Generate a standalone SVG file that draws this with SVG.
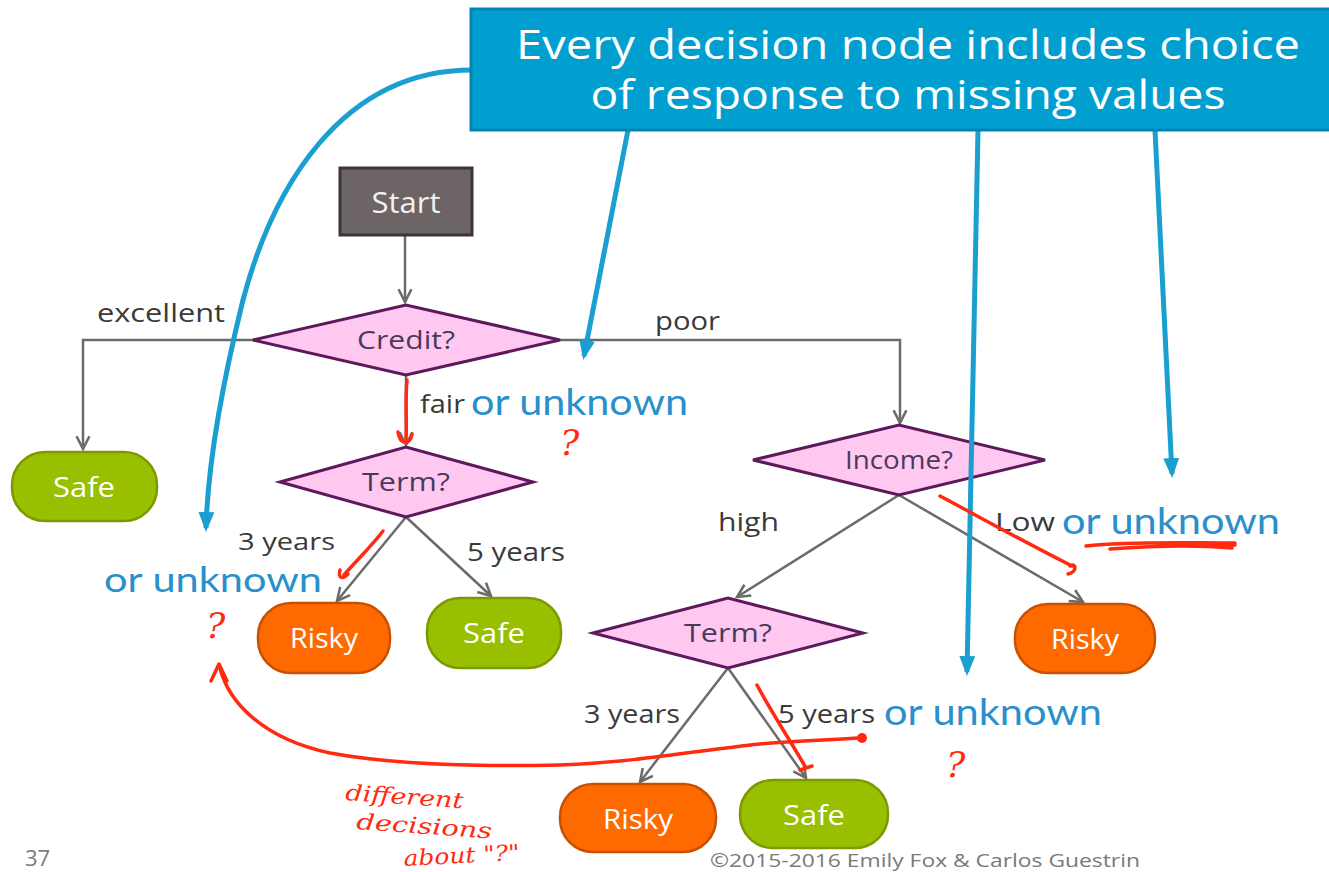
<svg xmlns="http://www.w3.org/2000/svg" width="1329" height="872" viewBox="0 0 1329 872">
<defs>
<style>
.lbl{font-family:"Open Sans","Liberation Sans",sans-serif;font-size:25px;fill:#3a3a3a}
.blue{font-family:"Lato","Open Sans",sans-serif;font-size:36px;fill:#2a90cc}
.dtxt{font-family:"Open Sans","Liberation Sans",sans-serif;font-size:25px;fill:#4a3a5a;text-anchor:middle}
.ltxt{font-family:"Open Sans","Liberation Sans",sans-serif;font-size:27px;fill:#ffffff;text-anchor:middle}
.dia{fill:#ffc8f0;stroke:#5c1a5c;stroke-width:3}
.safe{fill:#99c000;stroke:#7a9a00;stroke-width:2.5}
.risky{fill:#ff6a00;stroke:#c85000;stroke-width:2.5}
.con{fill:none;stroke:#6b6b6b;stroke-width:2.5}
.bl{fill:none;stroke:#1a9fd0;stroke-width:5}
.red{fill:none;stroke:#ff2a10;stroke-width:3.5;stroke-linecap:round;stroke-linejoin:round}
.rq{font-family:"DejaVu Serif",serif;fill:#ff2a10;font-size:36px;font-style:italic}
.rh{font-family:"DejaVu Serif",serif;fill:#ff2a10;font-size:22px;font-style:italic}
</style>
<marker id="ga" viewBox="0 0 10 10" refX="9" refY="5" markerWidth="16" markerHeight="16" markerUnits="userSpaceOnUse" orient="auto">
<path d="M1,1 L9,5 L1,9" fill="none" stroke="#6b6b6b" stroke-width="1.6"/>
</marker>
<marker id="ba" viewBox="0 0 10 10" refX="8" refY="5" markerWidth="20" markerHeight="20" markerUnits="userSpaceOnUse" orient="auto">
<path d="M0,1 L10,5 L0,9 Z" fill="#1a9fd0"/>
</marker>
</defs>
<rect width="1329" height="872" fill="#ffffff"/>

<g id="connectors">
<path class="con" d="M405,235 V302" marker-end="url(#ga)"/>
<path class="con" d="M253,340 H83 V449" marker-end="url(#ga)"/>
<path class="con" d="M560,340 H900 V423" marker-end="url(#ga)"/>
<path class="con" d="M406,375 V445" marker-end="url(#ga)"/>
<path class="con" d="M406,517 L337,601" marker-end="url(#ga)"/>
<path class="con" d="M406,517 L491,596" marker-end="url(#ga)"/>
<path class="con" d="M899,495 L737,597" marker-end="url(#ga)"/>
<path class="con" d="M899,495 L1083,602" marker-end="url(#ga)"/>
<path class="con" d="M728,668 L640,782" marker-end="url(#ga)"/>
<path class="con" d="M728,668 L806,778" marker-end="url(#ga)"/>
</g>

<g id="edge-labels">
<text class="lbl" x="97" y="322" textLength="128" lengthAdjust="spacingAndGlyphs">excellent</text>
<text class="lbl" x="655" y="330" textLength="65" lengthAdjust="spacingAndGlyphs">poor</text>
<text class="lbl" x="420" y="413" textLength="45" lengthAdjust="spacingAndGlyphs">fair</text>
<text class="blue" x="471" y="415" textLength="217" lengthAdjust="spacingAndGlyphs">or unknown</text>
<text class="lbl" x="238" y="550" style="font-size:24px" textLength="97" lengthAdjust="spacingAndGlyphs">3 years</text>
<text class="lbl" x="467" y="561" textLength="98" lengthAdjust="spacingAndGlyphs">5 years</text>
<text class="blue" x="104" y="592" style="font-size:34px" textLength="218" lengthAdjust="spacingAndGlyphs">or unknown</text>
<text class="lbl" x="718" y="531" textLength="61" lengthAdjust="spacingAndGlyphs">high</text>
<text class="lbl" x="995" y="531" textLength="60" lengthAdjust="spacingAndGlyphs">Low</text>
<text class="blue" x="1062" y="534" textLength="218" lengthAdjust="spacingAndGlyphs">or unknown</text>
<text class="lbl" x="584" y="723" textLength="96" lengthAdjust="spacingAndGlyphs">3 years</text>
<text class="lbl" x="778" y="723" textLength="97" lengthAdjust="spacingAndGlyphs">5 years</text>
<text class="blue" x="884" y="725" textLength="218" lengthAdjust="spacingAndGlyphs">or unknown</text>
</g>

<g id="start">
<rect x="340" y="168" width="132" height="67" fill="#6d6565" stroke="#3d3535" stroke-width="3"/>
<text class="ltxt" x="406" y="213" style="font-size:29px;fill:#f2f2f2" textLength="69" lengthAdjust="spacingAndGlyphs">Start</text>
</g>
<g id="credit">
<polygon class="dia" points="253,340 406,305 560,340 406,375"/>
<text class="dtxt" x="406" y="349" textLength="98" lengthAdjust="spacingAndGlyphs">Credit?</text>
</g>
<g id="safe1">
<rect class="safe" x="12" y="452" width="145" height="69" rx="33"/>
<text class="ltxt" x="84" y="497" textLength="62" lengthAdjust="spacingAndGlyphs">Safe</text>
</g>
<g id="term1">
<polygon class="dia" points="280,482 406,447 533,482 406,517"/>
<text class="dtxt" x="406" y="491" textLength="88" lengthAdjust="spacingAndGlyphs">Term?</text>
</g>
<g id="risky1">
<rect class="risky" x="258" y="603" width="132" height="70" rx="33"/>
<text class="ltxt" x="324" y="648" textLength="68" lengthAdjust="spacingAndGlyphs">Risky</text>
</g>
<g id="safe2">
<rect class="safe" x="427" y="598" width="134" height="70" rx="33"/>
<text class="ltxt" x="494" y="643" textLength="62" lengthAdjust="spacingAndGlyphs">Safe</text>
</g>
<g id="income">
<polygon class="dia" points="753,460 899,425 1045,460 899,495"/>
<text class="dtxt" x="899" y="469" textLength="108" lengthAdjust="spacingAndGlyphs">Income?</text>
</g>
<g id="risky2">
<rect class="risky" x="1015" y="604" width="140" height="69" rx="33"/>
<text class="ltxt" x="1085" y="649" textLength="68" lengthAdjust="spacingAndGlyphs">Risky</text>
</g>
<g id="term2">
<polygon class="dia" points="593,633 728,598 863,633 728,668"/>
<text class="dtxt" x="728" y="642" textLength="88" lengthAdjust="spacingAndGlyphs">Term?</text>
</g>
<g id="risky3">
<rect class="risky" x="560" y="784" width="156" height="68" rx="33"/>
<text class="ltxt" x="638" y="829" textLength="70" lengthAdjust="spacingAndGlyphs">Risky</text>
</g>
<g id="safe3">
<rect class="safe" x="740" y="780" width="148" height="68" rx="33"/>
<text class="ltxt" x="814" y="825" textLength="62" lengthAdjust="spacingAndGlyphs">Safe</text>
</g>

<g id="callout-arrows">
<path class="bl" d="M472,70 C 340,70 272,190 243,300 C 222,385 208,460 206,528" marker-end="url(#ba)"/>
<path class="bl" d="M628,130 L584,356" marker-end="url(#ba)"/>
<path class="bl" d="M978,130 L967,672" marker-end="url(#ba)"/>
<path class="bl" d="M1155,130 L1172,474" marker-end="url(#ba)"/>
</g>

<g id="callout">
<rect x="471" y="9" width="870" height="121" fill="#009fd0" stroke="#0084b4" stroke-width="3"/>
<text x="908" y="59" text-anchor="middle" style="font-family:'Open Sans','Liberation Sans',sans-serif;font-size:40px;fill:#ffffff" textLength="784" lengthAdjust="spacingAndGlyphs">Every decision node includes choice</text>
<text x="908" y="109" text-anchor="middle" style="font-family:'Open Sans','Liberation Sans',sans-serif;font-size:40px;fill:#ffffff" textLength="635" lengthAdjust="spacingAndGlyphs">of response to missing values</text>
</g>

<g id="annotations">
<path class="red" d="M407,380 C 405,400 407,420 406,440 M398,432 C 400,445 410,446 412,434"/>
<path class="red" d="M383,531 C 370,548 355,562 344,575 M340,570 C 338,578 342,580 348,574"/>
<path class="red" d="M940,496 C 985,520 1030,545 1072,566 M1068,574 C 1078,572 1076,562 1070,566"/>
<path class="red" d="M1086,546 C 1130,541 1190,543 1235,543 M1110,549 C 1150,546 1200,545 1232,548 M1150,543 L1235,545"/>
<path class="red" d="M757,685 C 770,710 790,740 806,768 M800,770 L812,766"/>
<path class="red" d="M220,668 C 228,700 260,738 330,753 C 390,764 470,767 560,765 C 640,762 700,750 760,744 C 800,740 830,740 860,738"/>
<path d="M211,681 L219,664 L227,681" fill="none" stroke="#ff2a10" stroke-width="3.5" stroke-linecap="round" stroke-linejoin="round"/>
<circle cx="862" cy="738" r="5" fill="#ff2a10"/>
<text class="rq" x="560" y="455">?</text>
<text class="rq" x="206" y="638">?</text>
<text class="rq" x="946" y="777">?</text>
<text class="rh" x="345" y="800" transform="rotate(4 345 800)" textLength="118" lengthAdjust="spacingAndGlyphs">different</text>
<text class="rh" x="356" y="829" transform="rotate(4 356 829)" textLength="136" lengthAdjust="spacingAndGlyphs">decisions</text>
<text class="rh" x="404" y="866" transform="rotate(-3 404 866)" textLength="116" lengthAdjust="spacingAndGlyphs">about "?"</text>
</g>

<g id="footer">
<text x="25" y="866" style="font-family:'Open Sans','Liberation Sans',sans-serif;font-size:22px;fill:#7a7a7a">37</text>
<text x="710" y="867" style="font-family:'Open Sans','Liberation Sans',sans-serif;font-size:19px;fill:#7a7a7a" textLength="430" lengthAdjust="spacingAndGlyphs">©2015-2016 Emily Fox &amp; Carlos Guestrin</text>
</g>
</svg>
